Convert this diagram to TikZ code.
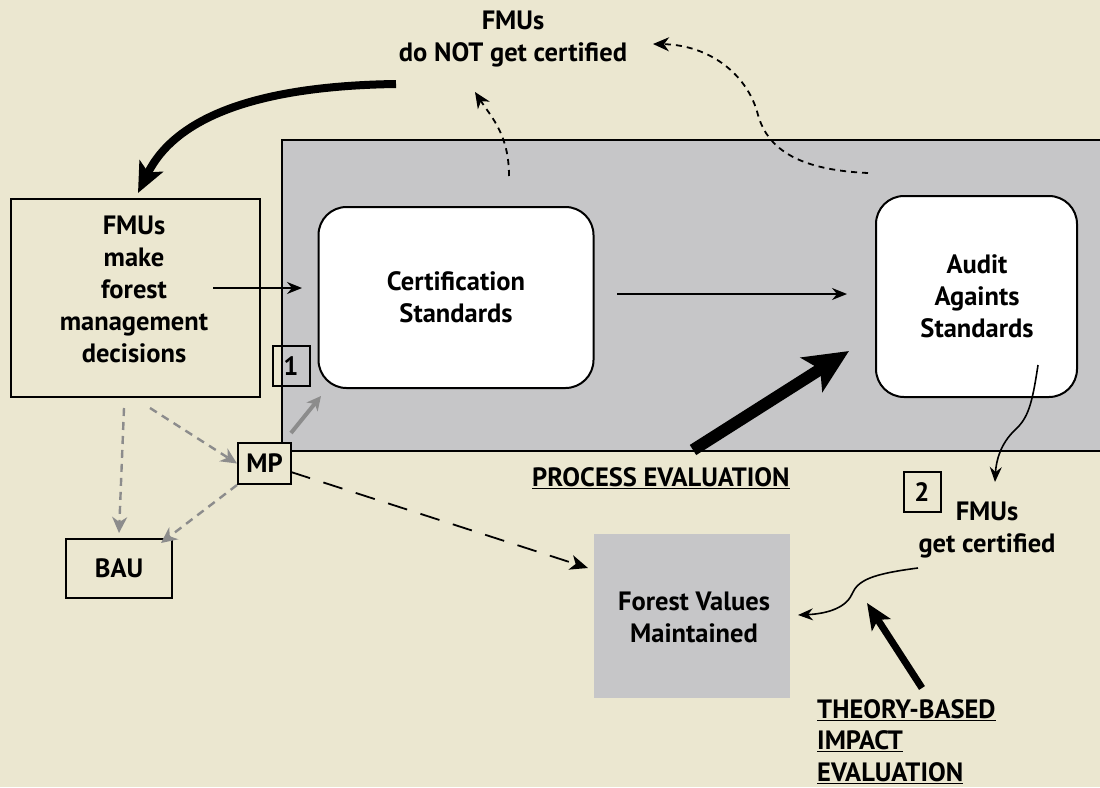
\documentclass[tikz,border=0pt]{standalone}
\usepackage{fontspec}
\setmainfont{PT Sans}
\usetikzlibrary{arrows.meta}
\definecolor{bg}{RGB}{235,231,208}
\definecolor{panel}{RGB}{198,198,200}
\definecolor{dgray}{RGB}{140,140,140}
\tikzset{
  txt/.style={align=center, inner sep=0pt},
  ltxt/.style={align=left, inner sep=0pt, anchor=base west},
  plainbox/.style={draw=black, line width=2pt, inner sep=0pt},
  rbox/.style={draw=black, line width=2pt, fill=white, rounded corners=28pt, inner sep=0pt},
  numbox/.style={draw=black, line width=2pt, inner sep=0pt, minimum width=37pt, minimum height=40pt},
  thin/.style={line width=1.6pt, -{Stealth[length=15pt,width=12pt,inset=5pt]}},
  gdash/.style={draw=dgray, line width=2.4pt, dash pattern=on 8pt off 6pt, -{Stealth[length=16pt,width=15pt,inset=5pt]}},
  bdash/.style={line width=1.8pt, dash pattern=on 6pt off 5pt, -{Stealth[length=16pt,width=14pt,inset=5pt]}},
}
\newcommand{\ul}[1]{\underline{#1}}
\begin{document}
\begin{tikzpicture}[x=1pt,y=-1pt, font=\bfseries\fontsize{26.5}{32}\selectfont]
\useasboundingbox[fill=bg] (0,0) rectangle (1100,787);
% panel
\node[draw=black, line width=2pt, fill=panel, minimum width=830pt, minimum height=311pt, inner sep=0pt, anchor=north west] (panel) at (281,139) {};
% boxes
\node[rbox, minimum width=275pt, minimum height=181pt] (cert) at (456,297.5) {};
\node[txt] (certt) at (456,297) {Certification\\Standards};
\node[rbox, minimum width=201pt, minimum height=201pt] (audit) at (976.5,296.5) {};
\node[txt] (auditt) at (977,296) {Audit\\Againts\\Standards};
\node[plainbox, minimum width=249pt, minimum height=198pt] (fmu) at (135.5,298) {};
\node[txt] (fmut) at (134,289) {FMUs\\make\\forest\\management\\decisions};
\node[plainbox, minimum width=106pt, minimum height=59pt] (bau) at (119,568.5) {BAU};
\node[plainbox, fill=bg, minimum width=53pt, minimum height=41pt] (mp) at (264.5,463.5) {MP};
\node[numbox] (one) at (291,366) {1};
\node[numbox, fill=bg] (two) at (922,492) {2};
\node[fill=panel, minimum width=196pt, minimum height=164pt, inner sep=0pt] (fv) at (692,616) {};
\node[txt] (fvt) at (694,617) {Forest Values\\Maintained};
\node[txt] (notcert) at (513,39) {FMUs\\do NOT get certified};
\node[txt] (getcert) at (987,530) {FMUs\\get certified};
\node[ltxt] (pe) at (532,486) {\ul{PROCESS EVALUATION}};
\node[ltxt] (tbie1) at (817,718) {\ul{THEORY-BASED}};
\node[ltxt] (tbie2) at (817,749.5) {\ul{IMPACT}};
\node[ltxt] (tbie3) at (817,781) {\ul{EVALUATION}};
% coordinates
\coordinate (c1) at (213,288);
\coordinate (c2) at (302,288);
\coordinate (c3) at (617,294);
\coordinate (c4) at (847,294);
\coordinate (c5) at (509,176);
\coordinate (c6) at (868,173);
% arrows
\draw[thin] (c1) -- (c2);
\draw[thin] (c3) -- (c4);
\draw[line width=8pt, -{Stealth[length=30pt,width=26pt,inset=7pt]}] (396,84) .. controls (255,86) and (175,118) .. (138,193);
\draw[bdash] (c5) .. controls (509,135) and (492,118) .. (475,92);
\draw[bdash] (c6) .. controls (800,170) and (768,150) .. (758,115) .. controls (748,75) and (710,45) .. (653,44);
\draw[gdash] (124,408) -- (119,533);
\draw[gdash] (150,408) -- (mp.west);
\draw[gdash] (mp.south west) -- (161,543);
\draw[draw=dgray, line width=4pt, -{Stealth[length=14pt,width=14pt,inset=4pt]}] (291,433) -- (321,396);
\draw[line width=1.8pt, dash pattern=on 20pt off 14pt, -{Stealth[length=18pt,width=15pt,inset=5pt]}] (291,472) -- (588,568);
\draw[line width=12pt, -{Stealth[length=44pt,width=40pt,inset=10pt]}] (693,450) -- (849,351);
\draw[line width=1.6pt, -{Stealth[length=15pt,width=12pt,inset=5pt]}] (1038,365) .. controls (1032,405) and (1028,418) .. (1015,430) .. controls (1000,444) and (996,462) .. (995,482);
\draw[line width=1.6pt, -{Stealth[length=15pt,width=12pt,inset=5pt]}] (918,568) .. controls (872,574) and (858,580) .. (852,594) .. controls (845,610) and (822,614) .. (798,615);
\draw[line width=7pt, -{Stealth[length=26pt,width=22pt,inset=6pt]}] (922,688) -- (867,603);
\end{tikzpicture}
\end{document}
